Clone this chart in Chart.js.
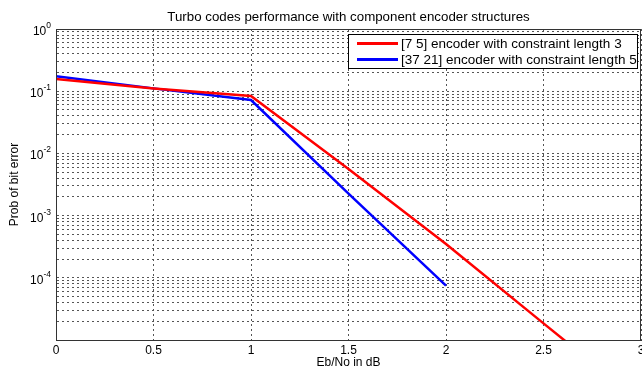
<!DOCTYPE html>
<html lang="en">
<head>
  <meta charset="UTF-8">
  <title>Turbo codes performance</title>
  <script src="https://cdn.jsdelivr.net/npm/chart.js"></script>
  <style>
    html, body { margin: 0; padding: 0; background: #fff; }
    #wrap { width: 642px; height: 369px; }
  </style>
</head>
<body>
  <div id="wrap"><canvas id="berChart" width="642" height="369"></canvas></div>

  <script>
    // Eb/No (dB) and bit error probability
    const ebnoK3 = [0, 0.5, 1, 1.5, 2, 2.5, 3];
    const berK3 = [0.157, 0.111, 0.0837, 5.6e-3, 3.5e-4, 1.85e-5, 1.0e-6];
    const ebnoK5 = [0, 0.5, 1, 1.5, 2];
    const berK5 = [0.174, 0.111, 0.0722, 2.25e-3, 7.5e-5];

    const seriesNames = [
      "[7 5] encoder with constraint length 3",
      "[37 21] encoder with constraint length 5"
    ];
    const seriesColors = ["#ff0000", "#0000ff"];

    const xTicks = [0, 0.5, 1, 1.5, 2, 2.5, 3];
    const yDecades = [1e-5, 1e-4, 1e-3, 1e-2, 1e-1, 1];
    const yMinor = [2, 3, 4, 5, 6, 7, 8, 9];
    const yLabelExp = ["", "-4", "-3", "-2", "-1", "0"];   // shown as 10^exp

    const chartTitle = "Turbo codes performance with component encoder structures";
    const xTitle = "Eb/No in dB";
    const yTitle = "Prob of bit error";

    const FONT = "'Liberation Sans', Arial, sans-serif";

    function pairs(xs, ys) {
      return xs.map((x, i) => ({ x: x, y: ys[i] }));
    }

    // all y grid values: decades plus 2..9 minor lines
    const yTickValues = [];
    yDecades.forEach((d, i) => {
      yTickValues.push(d);
      if (i < yDecades.length - 1) yMinor.forEach(m => yTickValues.push(+(m * d).toPrecision(3)));
    });

    const boxAndTitle = {
      id: "boxAndTitle",
      afterDraw(chart) {
        const ctx = chart.ctx;
        const a = chart.chartArea;
        const yScale = chart.scales.y;
        ctx.save();
        // axes box
        ctx.strokeStyle = "#333";
        ctx.lineWidth = 1;
        ctx.setLineDash([]);
        ctx.strokeRect(a.left + 0.5, a.top + 0.5, a.right - a.left - 1, a.bottom - a.top);

        // y tick labels with superscript exponents
        ctx.fillStyle = "#000";
        ctx.textBaseline = "alphabetic";
        yDecades.forEach((d, i) => {
          if (!yLabelExp[i]) return;
          const py = yScale.getPixelForValue(d);
          ctx.font = "8.5px " + FONT;
          const ew = ctx.measureText(yLabelExp[i]).width;
          ctx.textAlign = "left";
          ctx.fillText(yLabelExp[i], 51 - ew, py - 1);
          ctx.font = "12px " + FONT;
          ctx.textAlign = "right";
          ctx.fillText("10", 51 - ew, py + 6);
        });

        // title centred over plot area
        ctx.font = "13.3px " + FONT;
        ctx.textAlign = "center";
        ctx.textBaseline = "middle";
        ctx.fillText(chartTitle, (a.left + a.right) / 2, 17);

        // legend box in the top right corner
        const bx = 348, by = 34, bw = 290, bh = 35;
        ctx.fillStyle = "#fff";
        ctx.fillRect(bx, by, bw, bh);
        ctx.strokeStyle = "#000";
        ctx.strokeRect(bx + 0.5, by + 0.5, bw - 1, bh - 1);
        ctx.font = "13.5px " + FONT;
        ctx.textAlign = "left";
        chart.data.datasets.forEach((ds, i) => {
          const ly = by + 9.5 + i * 16;
          ctx.strokeStyle = ds.borderColor;
          ctx.lineWidth = 3;
          ctx.beginPath();
          ctx.moveTo(357, ly);
          ctx.lineTo(398, ly);
          ctx.stroke();
          ctx.fillStyle = "#000";
          ctx.fillText(ds.label, 401, ly + 0.5);
        });
        ctx.restore();
      }
    };

    new Chart(document.getElementById("berChart"), {
      type: "line",
      data: {
        datasets: [
          {
            label: seriesNames[0],
            data: pairs(ebnoK3, berK3),
            borderColor: seriesColors[0],
            borderWidth: 2.5,
            pointRadius: 0,
            tension: 0
          },
          {
            label: seriesNames[1],
            data: pairs(ebnoK5, berK5),
            borderColor: seriesColors[1],
            borderWidth: 2.5,
            pointRadius: 0,
            tension: 0
          }
        ]
      },
      options: {
        responsive: false,
        animation: false,
        layout: { padding: { top: 29, right: 1, left: 0, bottom: 0 } },
        plugins: {
          legend: { display: false },
          title: { display: false },
          tooltip: { enabled: false }
        },
        scales: {
          x: {
            type: "linear",
            min: 0,
            max: 3,
            afterBuildTicks(scale) {
              scale.ticks = xTicks.map(v => ({ value: v }));
            },
            afterFit(scale) {
              scale.height = 29;
              scale.paddingLeft = 0;
              scale.paddingRight = 0;
            },
            ticks: {
              color: "#000",
              font: { family: FONT, size: 12 },
              maxRotation: 0,
              autoSkip: false,
              padding: 3,
              callback: v => String(v)
            },
            grid: {
              color: "#555",
              lineWidth: 1,
              drawTicks: false
            },
            border: { display: true, color: "#333", dash: [2, 3] },
            title: {
              display: true,
              text: xTitle,
              color: "#000",
              font: { family: FONT, size: 12, lineHeight: 1 },
              padding: { top: -1, bottom: 0 }
            }
          },
          y: {
            type: "logarithmic",
            min: 1e-5,
            max: 1,
            afterBuildTicks(scale) {
              scale.ticks = yTickValues.map(v => ({ value: v }));
            },
            afterFit(scale) {
              scale.width = 56;
              scale.paddingTop = 0;
              scale.paddingBottom = 0;
            },
            ticks: { display: false },
            grid: {
              color: "#555",
              lineWidth: 1,
              drawTicks: false
            },
            border: { display: true, color: "#333", dash: [2, 3] },
            title: {
              display: true,
              text: yTitle,
              color: "#000",
              font: { family: FONT, size: 12 },
              padding: { top: 7, bottom: 0 }
            }
          }
        }
      },
      plugins: [boxAndTitle]
    });
  </script>
</body>
</html>
